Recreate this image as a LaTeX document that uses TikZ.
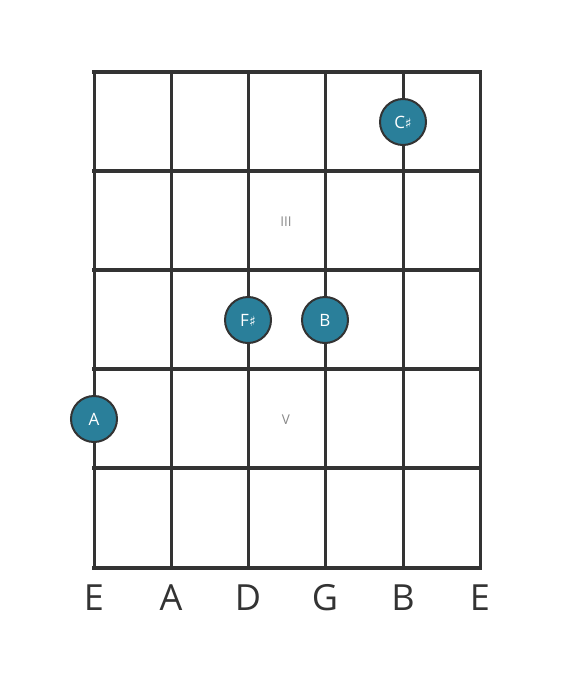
\documentclass[tikz,border=0pt]{standalone}
\usepackage{fontspec}
\setmainfont{Open Sans}
\newfontfamily\symfont{DejaVu Sans}
\definecolor{linec}{HTML}{333333}
\definecolor{dotc}{HTML}{2A7F9A}
\definecolor{numc}{HTML}{888888}
\begin{document}
\begin{tikzpicture}[x=1pt,y=-1pt,
  fretline/.style={draw=linec,line width=4.5pt},
  stringline/.style={draw=linec,line width=3pt},
  notedot/.style={circle,fill=dotc,draw=linec,line width=2pt,minimum size=46pt,inner sep=0pt,text=white,font=\fontsize{17}{17}\selectfont},
  strlabel/.style={text=linec,font=\fontsize{36}{36}\selectfont},
  fretnum/.style={text=numc,font=\fontsize{13.5}{13.5}\selectfont}]
\useasboundingbox (0,0) rectangle (560,682);
% strings
\foreach \x/\n in {94/s1,171/s2,248/s3,325/s4,403/s5,480/s6}{
  \coordinate (\n t) at (\x,72);
  \coordinate (\n b) at (\x,568);
  \draw[stringline] (\n t) -- (\n b);
}
% frets
\foreach \y/\n in {72/f0,171/f1,270/f2,369/f3,468/f4,568/f5}{
  \coordinate (\n l) at (94,\y);
  \coordinate (\n r) at (480,\y);
  \draw[fretline,line cap=rect] (\n l) -- (\n r);
}
% fret numbers
\node[fretnum] (n3) at (286,222) {III};
\node[fretnum] (n5) at (286,420) {V};
% dots
\node[notedot] (dC) at (403,122) {C{\symfont\fontsize{14}{14}\selectfont ♯}};
\node[notedot] (dF) at (248,320) {F{\symfont\fontsize{14}{14}\selectfont ♯}};
\node[notedot] (dB) at (325,320) {B};
\node[notedot] (dA) at (94,419) {A};
% string labels
\foreach \x/\t/\n in {94/E/l1,171/A/l2,248/D/l3,325/G/l4,403/B/l5,480/E/l6}{
  \node[strlabel] (\n) at (\x,598) {\t};
}
\end{tikzpicture}
\end{document}
